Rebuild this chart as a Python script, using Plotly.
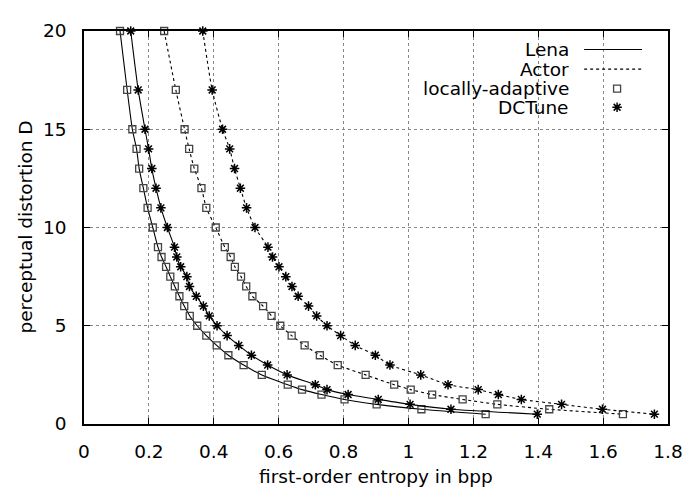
import plotly.graph_objects as go

# Distortion levels (y values shared by all curves)
D_levels = [20, 17, 15, 14, 13, 12, 11, 10, 9, 8.5, 8, 7.5, 7, 6.5, 6, 5.5, 5,
            4.5, 4, 3.5, 3, 2.5, 2, 1.75, 1.5, 1.25, 1.0, 0.75, 0.5]

# First-order entropy (bpp) for each curve
lena_la = [0.111, 0.133, 0.149, 0.162, 0.170, 0.183, 0.196, 0.212, 0.228, 0.239,
           0.253, 0.266, 0.280, 0.294, 0.309, 0.326, 0.349, 0.377, 0.409, 0.445,
           0.492, 0.548, 0.628, 0.672, 0.732, 0.803, 0.902, 1.040, 1.238]
lena_dct = [0.144, 0.167, 0.188, 0.199, 0.209, 0.222, 0.237, 0.257, 0.279, 0.286,
            0.298, 0.317, 0.325, 0.346, 0.368, 0.386, 0.410, 0.441, 0.477, 0.516,
            0.566, 0.626, 0.713, 0.749, 0.814, 0.907, 1.005, 1.131, 1.397]
actor_la = [0.247, 0.283, 0.310, 0.324, 0.340, 0.362, 0.377, 0.406, 0.434, 0.452,
            0.465, 0.484, 0.500, 0.519, 0.552, 0.578, 0.605, 0.640, 0.680, 0.727,
            0.782, 0.868, 0.956, 1.007, 1.073, 1.167, 1.274, 1.434, 1.661]
actor_dct = [0.366, 0.395, 0.427, 0.449, 0.464, 0.482, 0.501, 0.527, 0.567, 0.581,
             0.601, 0.622, 0.641, 0.660, 0.692, 0.717, 0.749, 0.791, 0.836, 0.898,
             0.943, 1.038, 1.122, 1.215, 1.277, 1.348, 1.472, 1.598, 1.758]

x_tickvals = [0, 0.2, 0.4, 0.6, 0.8, 1.0, 1.2, 1.4, 1.6, 1.8]
x_ticktext = ["0", "0.2", "0.4", "0.6", "0.8", "1", "1.2", "1.4", "1.6", "1.8"]
y_tickvals = [0, 5, 10, 15, 20]
y_ticktext = ["0", "5", "10", "15", "20"]

legend_labels = ["Lena", "Actor", "locally-adaptive", "DCTune"]

FONT = "DejaVu Sans"
FS = 18.5

sq = dict(symbol="square-open", size=7, color="#444", line=dict(width=1.3, color="#444"))
st = dict(symbol="asterisk-open", size=8, color="black", line=dict(width=1.5, color="black"))

fig = go.Figure()
series = [
    (lena_la, "solid", sq),
    (lena_dct, "solid", st),
    (actor_la, "dot", sq),
    (actor_dct, "dot", st),
]
for xs, dash, mk in series:
    fig.add_trace(go.Scatter(
        x=xs, y=D_levels, mode="lines+markers",
        line=dict(color="black", width=1.1, dash=dash, shape="spline", smoothing=0.6),
        marker=mk, showlegend=False, cliponaxis=False,
    ))

# page body has an 8px margin: figure placed so plot area is at page px 84..669, 22..424
OFF = 8
W, H = 695 - OFF, 489 - OFF
L, T, R, B = 84 - OFF, 22 - OFF, 26, 65

px = lambda p: (p - 84) / 585.0
py = lambda p: (424 - p) / 402.0
rows = [41, 61, 81, 100]
annotations = []
for lab, r in zip(legend_labels, rows):
    annotations.append(dict(x=px(572), y=py(r), xref="paper", yref="paper",
                            text=lab, showarrow=False, xanchor="right", yanchor="middle",
                            font=dict(family=FONT, size=FS, color="black")))
shapes = [
    dict(type="rect", xref="paper", yref="paper", x0=px(415), x1=1, y0=py(117), y1=1,
         fillcolor="white", line=dict(width=0), layer="between"),
    dict(type="line", xref="paper", yref="paper", x0=px(585), x1=px(643),
         y0=py(rows[0]), y1=py(rows[0]), line=dict(color="black", width=1.1)),
    dict(type="line", xref="paper", yref="paper", x0=px(585), x1=px(643),
         y0=py(rows[1]), y1=py(rows[1]), line=dict(color="black", width=1.1, dash="dot")),
]
fig.add_trace(go.Scatter(x=[1.8 * px(618)], y=[20 * py(rows[2])], mode="markers",
                         marker=sq, showlegend=False, cliponaxis=False))
fig.add_trace(go.Scatter(x=[1.8 * px(618)], y=[20 * py(rows[3])], mode="markers",
                         marker=st, showlegend=False, cliponaxis=False))

# axis titles
annotations.append(dict(x=0.5, y=py(478), xref="paper", yref="paper",
                        text="first-order entropy in bpp", showarrow=False,
                        xanchor="center", yanchor="middle",
                        font=dict(family=FONT, size=FS, color="black")))
annotations.append(dict(x=px(25), y=0.5, xref="paper", yref="paper",
                        text="perceptual distortion D", showarrow=False, textangle=-90,
                        xanchor="center", yanchor="middle",
                        font=dict(family=FONT, size=FS, color="black")))

axis_common = dict(showline=True, linecolor="black", linewidth=1.5, mirror="ticks",
                   ticks="inside", ticklen=6, tickcolor="black", tickwidth=1.2,
                   showgrid=True, gridcolor="#888", griddash="dot", gridwidth=1,
                   zeroline=False, tickfont=dict(family=FONT, size=FS, color="black"))

fig.update_xaxes(range=[0, 1.8], tickvals=x_tickvals, ticktext=x_ticktext,
                 ticklabelstandoff=10, **axis_common)
fig.update_yaxes(range=[0, 20], tickvals=y_tickvals, ticktext=y_ticktext,
                 ticklabelstandoff=12, **axis_common)

fig.update_layout(width=W, height=H, margin=dict(l=L, r=R, t=T, b=B),
                  plot_bgcolor="white", paper_bgcolor="white",
                  annotations=annotations, shapes=shapes,
                  font=dict(family=FONT, size=FS, color="black"))

fig.write_html("out.html")
